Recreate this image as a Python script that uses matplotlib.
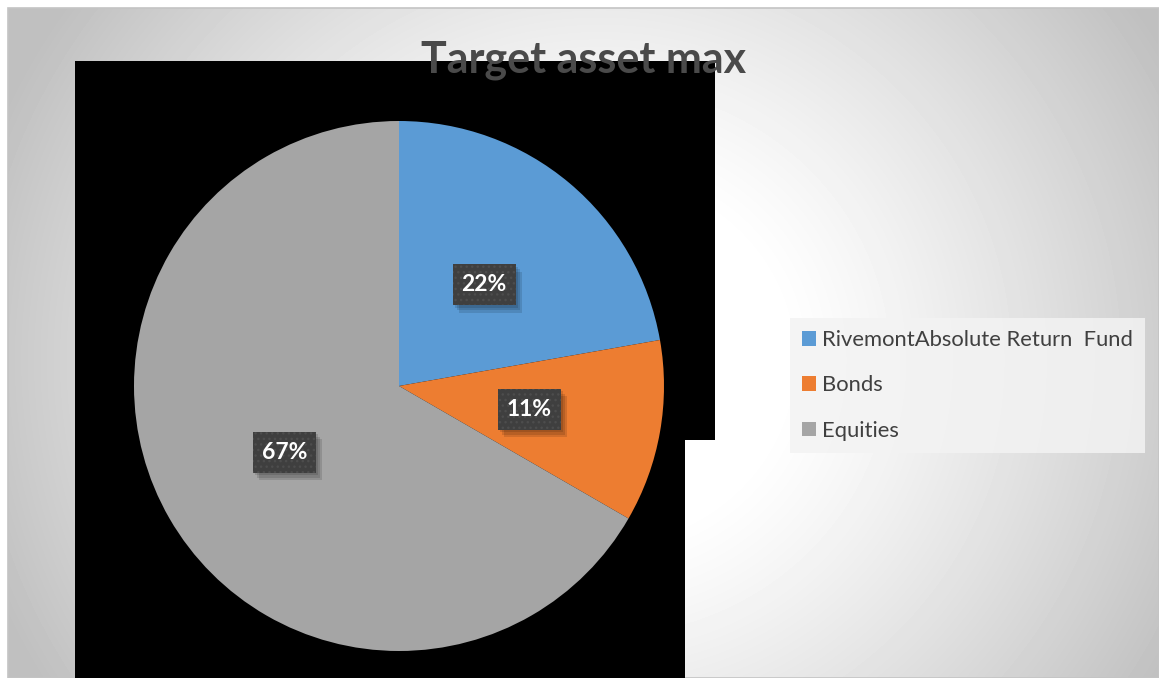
import numpy as np
import matplotlib
matplotlib.use("Agg")
import matplotlib.pyplot as plt
from matplotlib.patches import Rectangle, Polygon

W, H = 1159, 678
DPI = 100

title = "Target asset max"
labels = ["RivemontAbsolute Return  Fund", "Bonds", "Equities"]
values = [2, 1, 6]
colors = ["#5B9BD5", "#ED7D31", "#A5A5A5"]

plt.rcParams["font.family"] = ["Lato", "DejaVu Sans"]

fig = plt.figure(figsize=(W / DPI, H / DPI), dpi=DPI)
fig.patch.set_facecolor("white")


def fx(x):
    return x / W


def fy(y):
    return 1 - y / H


# chart area background: soft radial gradient, white toward the middle
x0, y0 = 8, 8
yy, xx = np.mgrid[y0:H, x0:W]
d = np.hypot(xx - 600, (yy - 360) * 1.05)
t = np.clip((d - 180) / 470, 0, 1) ** 1.2
shade = (255 - 63 * t) / 255
fig.figimage(shade, xo=x0, yo=0, origin="upper", cmap="gray", vmin=0, vmax=1, zorder=-5)

# overlay axes in pixel coordinates
over = fig.add_axes([0, 0, 1, 1])
over.set_xlim(0, W)
over.set_ylim(H, 0)
over.axis("off")
over.patch.set_alpha(0)
over.add_patch(Rectangle((x0, y0), W - x0, H - y0, fill=False, edgecolor="#c4c4c4", lw=1.2))
black = [(75, 61), (715, 61), (715, 440), (685, 440), (685, 678), (75, 678)]
over.add_patch(Polygon(black, closed=True, facecolor="black", edgecolor="none"))

# pie
cx, cy, r = 399, 386, 265
pax = fig.add_axes([fx(cx - r), fy(cy + r), 2 * r / W, 2 * r / H])
pax.set_zorder(2)
wedges, texts, autotexts = pax.pie(
    values, colors=colors, startangle=90, counterclock=False,
    autopct=lambda p: f"{p:.0f}%", pctdistance=0.5,
    wedgeprops=dict(linewidth=0), radius=1,
)
pax.set_xlim(-1, 1)
pax.set_ylim(-1, 1)
pax.set_aspect("auto")

bw, bh = 63 / r, 41 / r
for at in autotexts:
    x, y = at.get_position()
    for k in range(3):
        off = 0.008 * (k + 1)
        pax.add_patch(Rectangle((x - bw / 2 + off, y - bh / 2 - off * 1.2), bw, bh,
                                facecolor="black", alpha=0.12, edgecolor="none", zorder=3))
    pax.add_patch(Rectangle((x - bw / 2, y - bh / 2), bw, bh, facecolor="#3f3f3f",
                            edgecolor="#4d4d4d", hatch="...", lw=0, zorder=4))
    at.set(color="white", fontsize=16.5, fontweight="bold", zorder=5, ha="center", va="center")

fig.text(fx(584), fy(60), title, ha="center", va="center", fontsize=31,
         fontweight="bold", color="#4a4a4a", zorder=6)

leg = fig.legend(wedges, labels, loc="upper left",
                 bbox_to_anchor=(fx(790), fy(318)), frameon=True, fancybox=False,
                 fontsize=15.8, labelcolor="#404040", handlelength=0.65, handleheight=0.65,
                 handletextpad=0.25, labelspacing=1.15, borderpad=0.55, borderaxespad=0)
leg.get_frame().set_facecolor("#f3f3f3")
leg.get_frame().set_edgecolor("none")
leg.get_frame().set_alpha(0.85)

fig.savefig("out.png", dpi=DPI)
